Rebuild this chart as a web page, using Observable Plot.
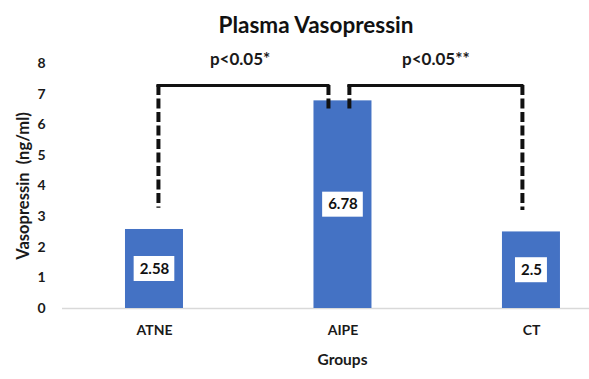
<!DOCTYPE html>
<html><head><meta charset="utf-8">
<script src="https://cdn.jsdelivr.net/npm/d3@7"></script>
<script src="https://cdn.jsdelivr.net/npm/@observablehq/plot@0.6"></script>
<style>
html,body{margin:0;padding:0;background:#fff;overflow:hidden;}
#title{width:589px;height:46px;box-sizing:border-box;padding:14px 0 0 43px;text-align:center;font:bold 22.5px/22px Lato,sans-serif;color:#111;}
</style></head><body>
<div id="title">Plasma Vasopressin</div>
<div id="chart"></div>
<script>
// ---- data ----
const groups = ["ATNE", "AIPE", "CT"];
const values = [2.58, 6.78, 2.5];
const valueLabels = ["2.58", "6.78", "2.5"];
const yTicks = [0, 1, 2, 3, 4, 5, 6, 7, 8];
const xTitle = "Groups";
const yTitle = "Vasopressin  (ng/ml)";
// significance brackets (x in group-index units, y in ng/ml)
const bracketLabels = ["p<0.05*", "p<0.05**"];
const bracketStart = [0.021, 1.034];
const bracketEnd = [0.923, 1.952];
const bracketTop = [7.28, 7.28];
const bracketStartDrop = [3.27, 6.43];
const bracketEndDrop = [6.43, 3.2];
const pLabelX = [0.454, 1.493];
const pLabelY = [8.13, 8.13];

// ---- layout ----
const W = 589, H = 333;
const mL = 62, mR = -33, mT = 17, mB = 71;
const xDomain = [-0.488, 2.483];
const yDomain = [0, 8];
const pxX = (W - mR - mL) / (xDomain[1] - xDomain[0]);
const pxY = (H - mB - mT) / (yDomain[1] - yDomain[0]);
const barHalf = 29 / pxX;
const ink = "#1a1a1a";

const data = groups.map((g, i) => ({group: g, idx: i, value: values[i], label: valueLabels[i]}));

// label box sizes from measured text
const ctx = document.createElement("canvas").getContext("2d");
ctx.font = "bold 15px Lato";
const boxes = data.map(d => {
  const w = ctx.measureText(d.label).width + 11;
  return {x1: d.idx - w / 2 / pxX, x2: d.idx + w / 2 / pxX,
          y1: d.value / 2 - 12.5 / pxY, y2: d.value / 2 + 12.5 / pxY};
});

const bIdx = bracketLabels.map((_, i) => i);
const verticals = [];
bIdx.forEach(i => {
  verticals.push({x: bracketStart[i], y1: bracketTop[i], y2: bracketStartDrop[i]});
  verticals.push({x: bracketEnd[i], y1: bracketTop[i], y2: bracketEndDrop[i]});
});

const chart = Plot.plot({
  width: W, height: H,
  marginLeft: mL, marginRight: mR, marginTop: mT, marginBottom: mB,
  style: {fontFamily: "Lato, sans-serif", color: ink, background: "white", overflow: "hidden"},
  x: {type: "linear", domain: xDomain},
  y: {domain: yDomain},
  marks: [
    Plot.ruleY([0], {stroke: "#d9d9d9", strokeWidth: 1.5}),
    Plot.rectY(data, {x1: d => d.idx - barHalf, x2: d => d.idx + barHalf, y1: 0, y2: "value", fill: "#4472c4"}),
    Plot.rect(boxes, {x1: "x1", x2: "x2", y1: "y1", y2: "y2", fill: "white"}),
    Plot.text(data, {x: "idx", y: d => d.value / 2, text: "label", fontSize: 15, fontWeight: "bold", fill: "#111"}),
    Plot.ruleY(bIdx, {y: i => bracketTop[i], x1: i => bracketStart[i], x2: i => bracketEnd[i], stroke: "#111", strokeWidth: 3, strokeLinecap: "square"}),
    Plot.ruleX(verticals, {x: "x", y1: "y1", y2: "y2", stroke: "#111", strokeWidth: 4, strokeDasharray: "10,3.5"}),
    Plot.text(bIdx, {x: i => pLabelX[i], y: i => pLabelY[i], text: i => bracketLabels[i], fontSize: 17, fontWeight: "bold", fill: ink}),
    Plot.axisY({ticks: yTicks, tickSize: 0, tickPadding: 17, fontSize: 14, fontWeight: "bold", label: null}),
    Plot.axisX({ticks: [0, 1, 2], tickFormat: i => groups[i], tickSize: 0, tickPadding: 17, fontSize: 14, fontWeight: "bold", label: null}),
    Plot.text([yTitle], {frameAnchor: "left", textAnchor: "middle", dx: -39, rotate: -90, text: d => d, fontSize: 16.5, fontWeight: "bold", fill: ink}),
    Plot.text([xTitle], {frameAnchor: "bottom", textAnchor: "middle", dy: 56, text: d => d, fontSize: 15.5, fontWeight: "bold", fill: ink})
  ]
});
document.getElementById("chart").appendChild(chart);
</script>
</body></html>
